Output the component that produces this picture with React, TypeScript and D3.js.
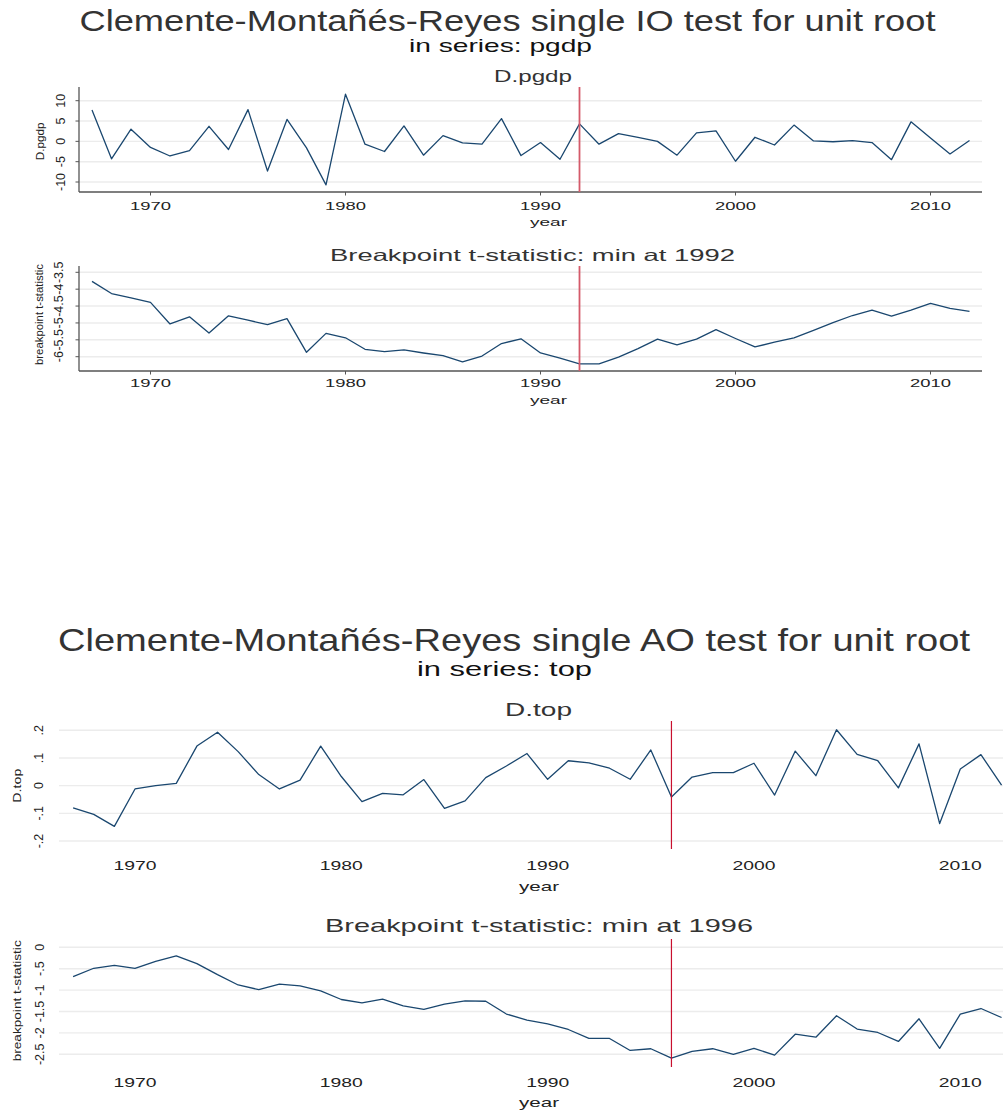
import React from 'react';
import * as d3 from 'd3';

// ---------- data ----------
const years = [1967,1968,1969,1970,1971,1972,1973,1974,1975,1976,1977,1978,1979,1980,1981,1982,1983,1984,1985,1986,1987,1988,1989,1990,1991,1992,1993,1994,1995,1996,1997,1998,1999,2000,2001,2002,2003,2004,2005,2006,2007,2008,2009,2010,2011,2012];

const pgdpDiff = [7.7,-4.3,3.0,-1.5,-3.6,-2.3,3.7,-2.0,7.8,-7.3,5.4,-1.6,-10.7,11.6,-0.7,-2.5,3.8,-3.4,1.4,-0.4,-0.7,5.6,-3.5,-0.3,-4.4,4.3,-0.7,1.9,1.0,0.0,-3.4,2.1,2.6,-4.9,1.0,-0.9,4.0,0.1,-0.1,0.2,-0.3,-4.5,4.8,0.8,-3.1,0.2];
const pgdpTstat = [-3.77,-4.13,-4.26,-4.39,-5.03,-4.82,-5.30,-4.79,-4.92,-5.05,-4.87,-5.87,-5.31,-5.44,-5.78,-5.85,-5.80,-5.89,-5.97,-6.15,-5.98,-5.61,-5.47,-5.89,-6.04,-6.21,-6.21,-6.01,-5.76,-5.48,-5.65,-5.48,-5.20,-5.46,-5.71,-5.57,-5.44,-5.22,-4.99,-4.78,-4.62,-4.80,-4.62,-4.42,-4.57,-4.66];
const topDiff = [-0.080,-0.104,-0.147,-0.012,0.000,0.008,0.143,0.193,0.123,0.040,-0.012,0.020,0.143,0.033,-0.058,-0.028,-0.033,0.022,-0.082,-0.055,0.029,0.071,0.116,0.023,0.090,0.082,0.063,0.023,0.129,-0.041,0.031,0.047,0.047,0.081,-0.034,0.125,0.036,0.202,0.113,0.090,-0.008,0.151,-0.137,0.060,0.112,0.002];
const topTstat = [-0.685,-0.49,-0.42,-0.49,-0.33,-0.20,-0.38,-0.64,-0.88,-0.99,-0.86,-0.90,-1.02,-1.22,-1.30,-1.21,-1.37,-1.45,-1.33,-1.25,-1.26,-1.56,-1.70,-1.79,-1.92,-2.13,-2.13,-2.41,-2.37,-2.59,-2.43,-2.37,-2.50,-2.36,-2.52,-2.03,-2.10,-1.60,-1.91,-1.99,-2.20,-1.67,-2.36,-1.56,-1.43,-1.64];

const xTickYears = [1970, 1980, 1990, 2000, 2010];
const pgdpDiffTicks = [-10, -5, 0, 5, 10];
const pgdpDiffTickLabels = ['-10', '-5', '0', '5', '10'];
const pgdpTTicks = [-6, -5.5, -5, -4.5, -4, -3.5];
const pgdpTTickLabels = ['-6', '-5.5', '-5', '-4.5', '-4', '-3.5'];
const topDiffTicks = [-0.2, -0.1, 0, 0.1, 0.2];
const topDiffTickLabels = ['-.2', '-.1', '0', '.1', '.2'];
const topTTicks = [-2.5, -2, -1.5, -1, -0.5, 0];
const topTTickLabels = ['-2.5', '-2', '-1.5', '-1', '-.5', '0'];

const breakIO = 1992;
const breakAO = 1996;

const FONT = '"Liberation Sans", Arial, Helvetica, sans-serif';
const LINE = '#1a476f';
const GRID = '#ececec';
const AXIS = '#555';

type TP = { x: number; y: number; size: number; len?: number; fill?: string; children: React.ReactNode; rot?: boolean };
function T({ x, y, size, len, fill = '#222', children, rot }: TP) {
  if (rot) {
    return (
      <text transform={`translate(${x},${y}) rotate(-90)`} textAnchor="middle" dominantBaseline="central"
        fontSize={size} fontFamily={FONT} fill={fill}
        {...(len ? { textLength: len, lengthAdjust: 'spacingAndGlyphs' } : {})}>{children}</text>
    );
  }
  return (
    <text x={x} y={y} textAnchor="middle" fontSize={size} fontFamily={FONT} fill={fill}
      {...(len ? { textLength: len, lengthAdjust: 'spacingAndGlyphs' } : {})}>{children}</text>
  );
}

type PanelProps = {
  x: d3.ScaleLinear<number, number>;
  y: d3.ScaleLinear<number, number>;
  values: number[];
  ticks: number[];
  tickLabels: string[];
  gx0: number; gx1: number;
  top: number; bottom: number;
  axes: boolean;
  breakYear: number; breakColor: string; breakWidth: number;
  yTickX: number; yTickSize: number;
  yTitle: string; yTitleX: number; yTitleLen: number; yTitleSize: number;
  xLabBase: number; xLabSize: number; xLabLen: number;
  yearBase: number; yearX: number; yearLen: number;
  title: string; titleX: number; titleBase: number; titleSize: number; titleLen: number;
};

function Panel(p: PanelProps) {
  const line = d3.line<number>().x((_, i) => p.x(years[i])).y((d) => p.y(d));
  const yMid = (p.y(p.ticks[0]) + p.y(p.ticks[p.ticks.length - 1])) / 2;
  return (
    <g>
      {p.ticks.map((t) => (
        <line key={'g' + t} x1={p.gx0} x2={p.gx1} y1={p.y(t)} y2={p.y(t)} stroke={GRID} strokeWidth={1.4} />
      ))}
      {p.axes && (
        <g>
          <line x1={p.gx0} x2={p.gx0} y1={p.top} y2={p.bottom} stroke={AXIS} strokeWidth={1.3} />
          <line x1={p.gx0} x2={p.gx1} y1={p.bottom} y2={p.bottom} stroke={AXIS} strokeWidth={1.3} />
          {p.ticks.map((t) => (
            <line key={'yt' + t} x1={p.gx0 - 3.5} x2={p.gx0} y1={p.y(t)} y2={p.y(t)} stroke={AXIS} strokeWidth={1} />
          ))}
          {xTickYears.map((t) => (
            <line key={'xt' + t} x1={p.x(t)} x2={p.x(t)} y1={p.bottom} y2={p.bottom + 3.5} stroke={AXIS} strokeWidth={1} />
          ))}
        </g>
      )}
      <path d={line(p.values) || ''} fill="none" stroke={LINE} strokeWidth={1.3} strokeLinejoin="round" />
      <line x1={p.x(p.breakYear)} x2={p.x(p.breakYear)} y1={p.top} y2={p.bottom} stroke={p.breakColor} strokeWidth={p.breakWidth} />
      {p.ticks.map((t, i) => (
        <T key={'yl' + t} rot x={p.yTickX} y={p.y(t)} size={p.yTickSize}>{p.tickLabels[i]}</T>
      ))}
      <T rot x={p.yTitleX} y={yMid} size={p.yTitleSize} len={p.yTitleLen}>{p.yTitle}</T>
      {xTickYears.map((t) => (
        <T key={'xl' + t} x={p.x(t)} y={p.xLabBase} size={p.xLabSize} len={p.xLabLen}>{String(t)}</T>
      ))}
      <T x={p.yearX} y={p.yearBase} size={p.xLabSize} len={p.yearLen}>year</T>
      <T x={p.titleX} y={p.titleBase} size={p.titleSize} len={p.titleLen} fill="#333">{p.title}</T>
    </g>
  );
}

export default function App() {
  const x1 = d3.scaleLinear().domain([1970, 2010]).range([150.5, 930.5]);
  const x2 = d3.scaleLinear().domain([1970, 2010]).range([135, 960.3]);
  const yA = d3.scaleLinear().domain([-10, 10]).range([182, 100.7]);
  const yB = d3.scaleLinear().domain([-6, -3.5]).range([356.7, 272.3]);
  const yC = d3.scaleLinear().domain([-0.2, 0.2]).range([841, 730.3]);
  const yD = d3.scaleLinear().domain([-2.5, 0]).range([1054.3, 947.3]);

  return (
    <svg width={1003} height={1110} style={{ position: 'absolute', left: 0, top: 0, background: '#fff' }}>
      <rect width={1003} height={1110} fill="#fff" />
      <T x={507.5} y={31} size={29} len={856} fill="#333">Clemente-Montañés-Reyes single IO test for unit root</T>
      <T x={500.5} y={52} size={18.5} len={183} fill="#111">in series: pgdp</T>

      <Panel x={x1} y={yA} values={pgdpDiff} ticks={pgdpDiffTicks} tickLabels={pgdpDiffTickLabels}
        gx0={79} gx1={982} top={87} bottom={192} axes
        breakYear={breakIO} breakColor="#d45a6a" breakWidth={1.8}
        yTickX={61} yTickSize={12.5} yTitle="D.pgdp" yTitleX={39.5} yTitleLen={38} yTitleSize={10.5}
        xLabBase={210} xLabSize={11.5} xLabLen={41} yearBase={226} yearX={548.5} yearLen={37}
        title="D.pgdp" titleX={533} titleBase={82} titleSize={16} titleLen={78} />

      <Panel x={x1} y={yB} values={pgdpTstat} ticks={pgdpTTicks} tickLabels={pgdpTTickLabels}
        gx0={79} gx1={982} top={266} bottom={371} axes
        breakYear={breakIO} breakColor="#d45a6a" breakWidth={1.8}
        yTickX={59} yTickSize={12.5} yTitle="breakpoint t-statistic" yTitleX={39} yTitleLen={101} yTitleSize={10.5}
        xLabBase={387} xLabSize={11.5} xLabLen={41} yearBase={404} yearX={548.5} yearLen={37}
        title="Breakpoint t-statistic: min at 1992" titleX={532.5} titleBase={261} titleSize={16.5} titleLen={405} />

      <T x={514} y={651} size={32} len={912} fill="#333">Clemente-Montañés-Reyes single AO test for unit root</T>
      <T x={504.5} y={676} size={19.5} len={175} fill="#111">in series: top</T>

      <Panel x={x2} y={yC} values={topDiff} ticks={topDiffTicks} tickLabels={topDiffTickLabels}
        gx0={59} gx1={1003} top={721} bottom={849} axes={false}
        breakYear={breakAO} breakColor="#c8102e" breakWidth={1.2}
        yTickX={39} yTickSize={12.5} yTitle="D.top" yTitleX={17} yTitleLen={34} yTitleSize={11.5}
        xLabBase={870} xLabSize={13} xLabLen={43} yearBase={891} yearX={539} yearLen={40}
        title="D.top" titleX={538.5} titleBase={716} titleSize={19} titleLen={67} />

      <Panel x={x2} y={yD} values={topTstat} ticks={topTTicks} tickLabels={topTTickLabels}
        gx0={59} gx1={1003} top={939} bottom={1067} axes={false}
        breakYear={breakAO} breakColor="#c8102e" breakWidth={1.2}
        yTickX={39.5} yTickSize={12.5} yTitle="breakpoint t-statistic" yTitleX={17} yTitleLen={121} yTitleSize={11.5}
        xLabBase={1087} xLabSize={13} xLabLen={43} yearBase={1107} yearX={539} yearLen={40}
        title="Breakpoint t-statistic: min at 1996" titleX={539} titleBase={932} titleSize={18.5} titleLen={428} />
    </svg>
  );
}
